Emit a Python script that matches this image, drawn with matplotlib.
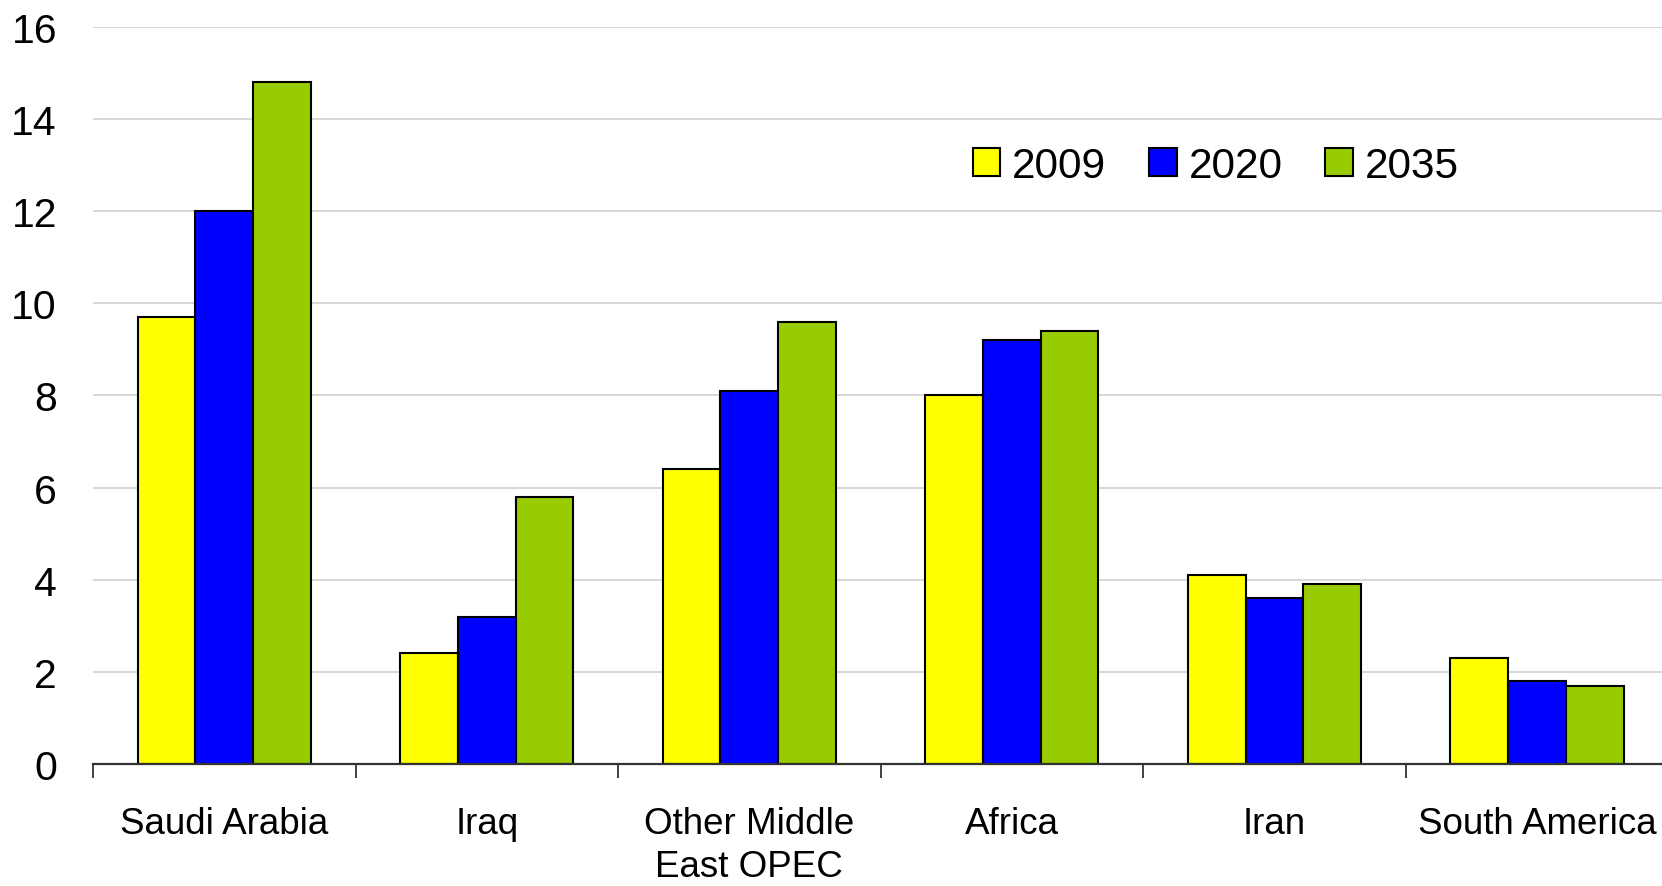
import matplotlib.pyplot as plt
import numpy as np

plt.rcParams['font.family'] = ['Liberation Sans', 'DejaVu Sans']

# production by region, mb/d
regions = ["Saudi Arabia", "Iraq", "Other Middle\nEast OPEC", "Africa", "Iran", "South America"]
years = ["2009", "2020", "2035"]
vals_2009 = [9.7, 2.4, 6.4, 8.0, 4.1, 2.3]
vals_2020 = [12.0, 3.2, 8.1, 9.2, 3.6, 1.8]
vals_2035 = [14.8, 5.8, 9.6, 9.4, 3.9, 1.7]
colors = ["#FFFF00", "#0000FF", "#99CC00"]

fig = plt.figure(figsize=(16.62, 8.87), dpi=100)
ax = fig.add_axes([0.056, 0.1375, 0.9477, 0.831])

x = np.arange(len(regions)) + 0.5
w = 0.22
for k, (vals, col, lab) in enumerate(zip([vals_2009, vals_2020, vals_2035], colors, years)):
    ax.bar(x + (k - 1) * w, vals, width=w, color=col, edgecolor="black",
           linewidth=1.5, label=lab, zorder=3)

ax.set_xlim(0, len(regions))
ax.set_ylim(0, 16)
ax.set_yticks(np.arange(0, 17, 2))
ax.grid(axis="y", color="#d4d4d4", linewidth=1.3, zorder=0)

# category boundaries as major ticks, names on minor ticks
ax.set_xticks(np.arange(0, len(regions) + 1))
ax.set_xticklabels([])
ax.set_xticks(x, minor=True)
ax.set_xticklabels(regions, minor=True, fontsize=26.5, linespacing=1.3)
ax.tick_params(axis="x", which="major", length=10, width=1.2, color="#222222")
ax.tick_params(axis="x", which="minor", length=0, pad=30)
ax.tick_params(axis="y", length=0, pad=26, labelsize=29.5)

for s in ["top", "right", "left"]:
    ax.spines[s].set_visible(False)
ax.spines["bottom"].set_color("#333333")
ax.spines["bottom"].set_linewidth(1.6)
ax.spines["bottom"].set_zorder(4)

fig.legend(loc="center", bbox_to_anchor=(0.7315, 0.812), ncol=3, frameon=False,
           fontsize=30.5, handlelength=0.66, handleheight=0.66,
           handletextpad=0.28, columnspacing=1.0, borderaxespad=0)

fig.savefig("out.png", dpi=100)
